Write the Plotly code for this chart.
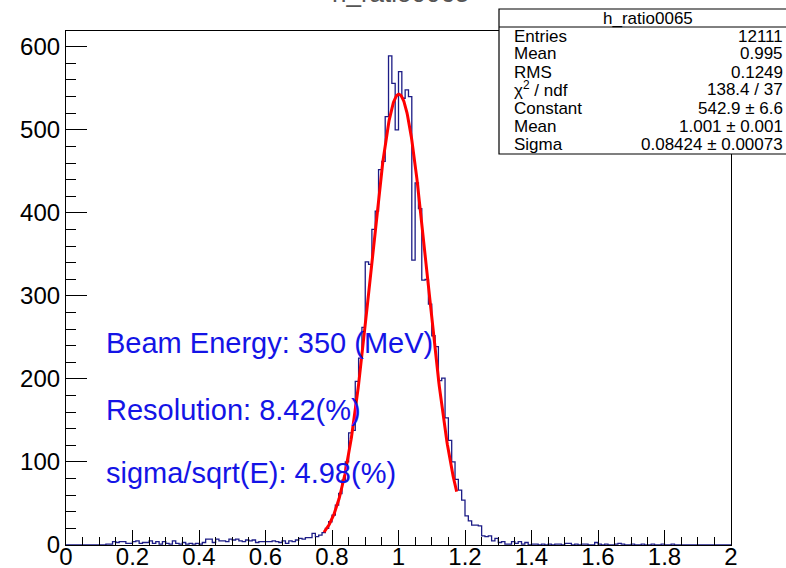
import numpy as np
import plotly.graph_objects as go

# ---------------- data ----------------
bin_low = 0.0
bin_width = 0.01
counts = [
    # 0.00 - 0.11
    0, 0, 0, 0, 0, 0, 0, 0, 0, 0, 0, 0,
    # 0.12 - 0.41
    1, 1, 4, 3, 4, 4, 2, 2, 4, 5, 2, 3, 3, 5, 2, 4, 1, 4, 2, 1,
    5, 2, 1, 3, 1, 2, 1, 2, 1, 3,
    # 0.42 - 0.69
    7, 7, 3, 7, 5, 5, 4, 7, 6, 7, 5, 4, 6, 5, 6, 3, 4, 4, 4, 4,
    5, 4, 3, 5, 2, 5, 4, 6,
    # 0.70 - 0.99
    8, 7, 9, 9, 14, 10, 12, 15, 20, 28, 36, 48, 62, 78, 100, 135, 138, 197, 225, 262,
    341, 338, 380, 402, 452, 462, 516, 589, 556, 500,
    # 1.00 - 1.29
    570, 538, 548, 540, 343, 436, 405, 319, 320, 290, 252, 239, 198, 201, 153, 126, 100, 79, 66, 54,
    35, 29, 24, 24, 23, 11, 10, 11, 5, 8,
    # 1.30 - 1.59
    3, 4, 1, 1, 4, 2, 4, 1, 3, 0, 1, 1, 0, 1, 0, 1, 0, 1, 1, 0,
    2, 2, 0, 1, 0, 1, 1, 0, 0, 3,
    # 1.60 - 1.99
    1, 0, 1, 0, 0, 1, 2, 1, 0, 0, 1, 0, 0, 1, 0, 0, 1, 0, 0, 1,
    0, 0, 1, 0, 0, 0, 0, 0, 0, 0, 0, 0, 0, 0, 0, 0, 0, 0, 0, 0,
]

fit_constant = 542.9
fit_mean = 1.001
fit_sigma = 0.08424
fit_range = [0.776, 1.175]

stats_title = "h_ratio0065"
stats_labels = ["Entries", "Mean", "RMS", "χ<sup>2</sup> / ndf", "Constant", "Mean", "Sigma"]
stats_values = ["12111", "0.995", "0.1249", "138.4 / 37", "542.9 ± 6.6", "1.001 ± 0.001", "0.08424 ± 0.00073"]

info_texts = ["Beam Energy: 350 (MeV)", "Resolution: 8.42(%)", "sigma/sqrt(E): 4.98(%)"]
info_y = [243, 163, 87]   # data y positions of the info texts

x_tick_vals = [0, 0.2, 0.4, 0.6, 0.8, 1.0, 1.2, 1.4, 1.6, 1.8, 2.0]
x_tick_text = ["0", "0.2", "0.4", "0.6", "0.8", "1", "1.2", "1.4", "1.6", "1.8", "2"]
y_tick_vals = [0, 100, 200, 300, 400, 500, 600]

# ---------------- figure ----------------
n = len(counts)
edges = [bin_low + i * bin_width for i in range(n + 1)]
step_y = counts + [counts[-1]]

xf = np.linspace(fit_range[0], fit_range[1], 300)
yf = fit_constant * np.exp(-0.5 * ((xf - fit_mean) / fit_sigma) ** 2)

FONT = "Liberation Sans, Arial, Helvetica, sans-serif"

fig = go.Figure()
fig.add_trace(go.Scatter(x=edges, y=step_y, mode="lines", line_shape="hv",
                         line=dict(color="#1c1c86", width=1.3), hoverinfo="skip"))
fig.add_trace(go.Scatter(x=xf, y=yf, mode="lines",
                         line=dict(color="#ff0000", width=3), hoverinfo="skip"))

W, H = 786, 568
L, R, T, B = 66, 55, 31, 23
pw, ph = W - L - R, H - T - B


def px2paper_x(px):
    return (px - L) / pw


def px2paper_y(py):
    return (H - B - py) / ph


# stats box
fig.add_shape(type="rect", xref="paper", yref="paper",
              x0=px2paper_x(499), x1=px2paper_x(800),
              y0=px2paper_y(154), y1=px2paper_y(9),
              line=dict(color="black", width=1.2), fillcolor="white", layer="above")
fig.add_shape(type="line", xref="paper", yref="paper",
              x0=px2paper_x(499), x1=px2paper_x(800),
              y0=px2paper_y(27), y1=px2paper_y(27),
              line=dict(color="black", width=1), layer="above")

annotations = []
annotations.append(dict(text=stats_title, xref="paper", yref="paper",
                        x=px2paper_x(648), y=px2paper_y(18), xanchor="center", yanchor="middle",
                        showarrow=False, font=dict(family=FONT, size=17, color="black")))
row_y = [37, 54, 72, 89, 108, 126, 144]
for lab, val, ry in zip(stats_labels, stats_values, row_y):
    annotations.append(dict(text=lab, xref="paper", yref="paper",
                            x=px2paper_x(512), y=px2paper_y(ry), xanchor="left", yanchor="middle",
                            showarrow=False, font=dict(family=FONT, size=17, color="black")))
    annotations.append(dict(text=val, xref="paper", yref="paper",
                            x=px2paper_x(785), y=px2paper_y(ry), xanchor="right", yanchor="middle",
                            showarrow=False, font=dict(family=FONT, size=17, color="black")))

# clipped title at the very top (only its lower edge is visible)
annotations.append(dict(text=stats_title, xref="paper", yref="paper",
                        x=px2paper_x(400), y=px2paper_y(10.5), xanchor="center", yanchor="bottom",
                        showarrow=False, font=dict(family=FONT, size=26, color="#555555")))

for t, yy in zip(info_texts, info_y):
    annotations.append(dict(text=t, xref="x", yref="y", x=0.114, y=yy,
                            xanchor="left", yanchor="middle", showarrow=False,
                            font=dict(family=FONT, size=29, color="#1414e6")))

fig.update_layout(
    width=W, height=H,
    margin=dict(l=L, r=R, t=T, b=B, pad=0, autoexpand=False),
    paper_bgcolor="white", plot_bgcolor="white",
    showlegend=False,
    annotations=annotations,
    font=dict(family=FONT, color="black"),
)
fig.update_xaxes(range=[0, 2], tickvals=x_tick_vals, ticktext=x_tick_text, automargin=False,
                 ticks="inside", ticklen=15, tickwidth=1, tickcolor="black",
                 ticklabelstandoff=-10,
                 minor=dict(dtick=0.05, ticks="inside", ticklen=7.5, tickwidth=1, tickcolor="black"),
                 showline=True, linecolor="black", linewidth=1.2, mirror=True,
                 showgrid=False, zeroline=False,
                 tickfont=dict(family=FONT, size=24, color="black"))
fig.update_yaxes(range=[0, 619], tickvals=y_tick_vals, automargin=False,
                 ticks="inside", ticklen=21, tickwidth=1, tickcolor="black",
                 minor=dict(dtick=20, ticks="inside", ticklen=10, tickwidth=1, tickcolor="black"),
                 showline=True, linecolor="black", linewidth=1.2, mirror=True,
                 showgrid=False, zeroline=False,
                 tickfont=dict(family=FONT, size=24, color="black"))

fig.write_html("out.html", config={"displayModeBar": False},
               post_script="document.body.style.margin='0px';")
